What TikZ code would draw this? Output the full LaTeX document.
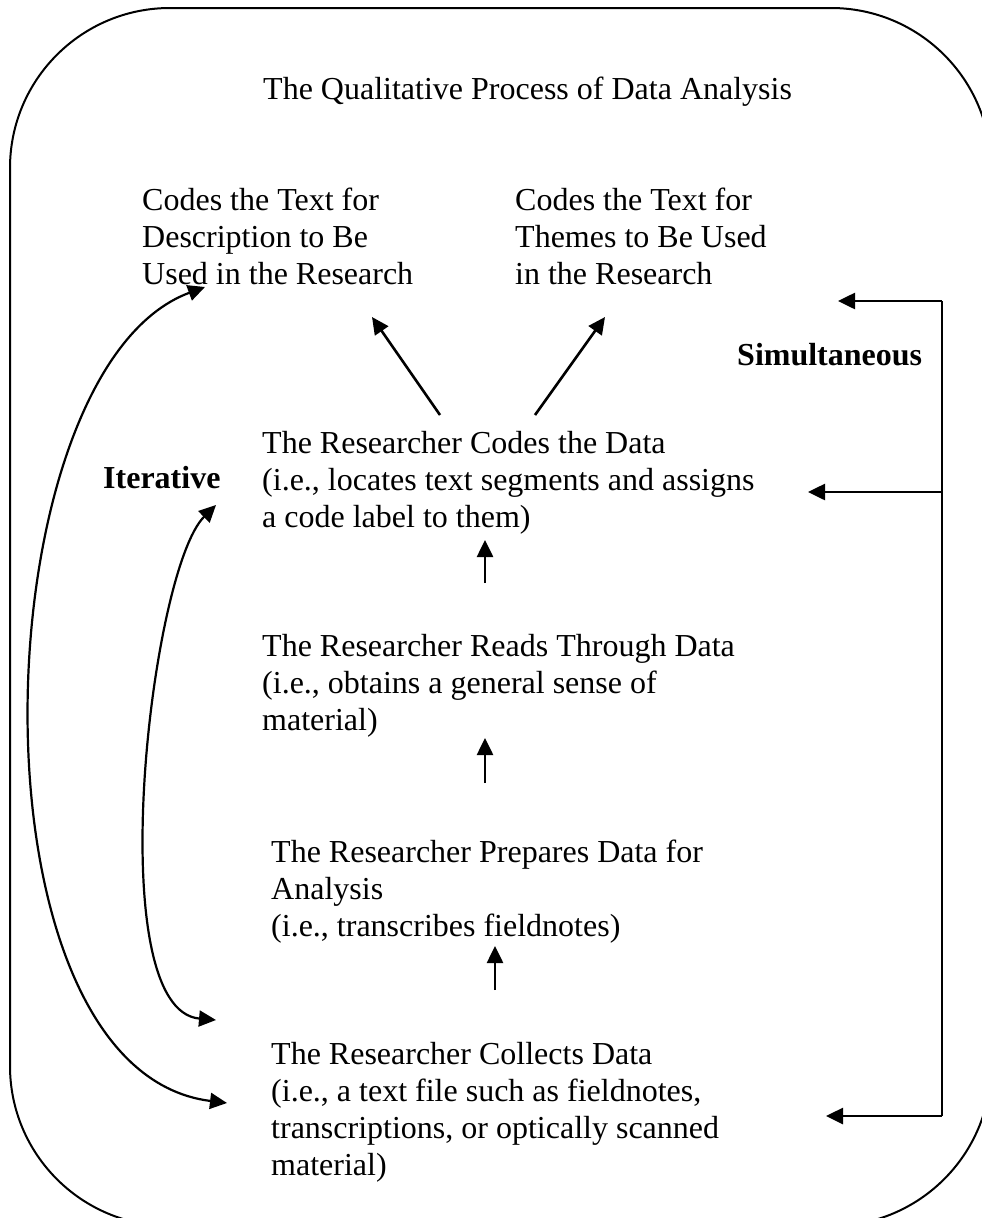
\documentclass[tikz,border=0pt]{standalone}
\usepackage{fontspec}
\setmainfont{Liberation Serif}
\usetikzlibrary{arrows.meta}

\newcommand{\lines}[1]{\begin{tabular}[t]{@{}l@{}}#1\end{tabular}}

\begin{document}
\begin{tikzpicture}[x=1pt,y=-1pt,
  txt/.style={anchor=base west, inner sep=0pt, font=\fontsize{32}{37}\selectfont},
  bold/.style={txt, font=\fontsize{32}{37}\selectfont\bfseries},
  frame/.style={line width=2pt, rounded corners=160pt},
  tip/.tip={Triangle[length=17pt,width=16pt]},
  arr/.style={line width=2.6pt, -tip},
  dbl/.style={line width=2.2pt, tip-tip},
  bar/.style={line width=2.2pt}]
\useasboundingbox (0,0) rectangle (982,1218);
\clip (0,0) rectangle (982,1218);

% outer rounded frame, partly running off the page
\draw[frame] (10,8) rectangle (991,1226);

% title
\node[txt] (title) at (263,99) {The Qualitative Process of Data Analysis};

% the two kinds of coding
\node[txt] (desc) at (142,210) {\lines{Codes the Text for\\Description to Be\\Used in the Research}};
\node[txt] (themes) at (515,210) {\lines{Codes the Text for\\Themes to Be Used\\in the Research}};

% labels of the two loops
\node[bold] (simul) at (737,365) {Simultaneous};
\node[bold] (iter) at (103,488) {Iterative};

% the steps
\node[txt] (codes) at (262,453) {\lines{The Researcher Codes the Data\\(i.e., locates text segments and assigns\\a code label to them)}};
\node[txt] (reads) at (262,656) {\lines{The Researcher Reads Through Data\\(i.e., obtains a general sense of\\material)}};
\node[txt] (prep) at (271,862) {\lines{The Researcher Prepares Data for\\Analysis\\(i.e., transcribes fieldnotes)}};
\node[txt] (coll) at (271,1064) {\lines{The Researcher Collects Data\\(i.e., a text file such as fieldnotes,\\transcriptions, or optically scanned\\material)}};

% arrow end points
\coordinate (dl0) at (440,415); \coordinate (dl1) at (372,317);
\coordinate (dr0) at (535,415); \coordinate (dr1) at (605,317);
\coordinate (u10) at (485,583); \coordinate (u11) at (485,540);
\coordinate (u20) at (485,783); \coordinate (u21) at (485,738);
\coordinate (u30) at (495,990); \coordinate (u31) at (495,946);
\coordinate (sT) at (942,301);  \coordinate (sTt) at (838,301);
\coordinate (sM) at (942,492);  \coordinate (sMt) at (808,492);
\coordinate (sB) at (942,1116); \coordinate (sBt) at (826,1116);
\coordinate (oB) at (227,1103); \coordinate (oT) at (205,287);
\coordinate (iB) at (216,1020); \coordinate (iT) at (216,505);

% step arrows
\draw[arr] (dl0) -- (dl1);
\draw[arr] (dr0) -- (dr1);
\draw[arr] (u10) -- (u11);
\draw[arr] (u20) -- (u21);
\draw[arr] (u30) -- (u31);

% simultaneous bracket
\draw[bar] (sT) -- (sB);
\draw[arr] (sT) -- (sTt);
\draw[arr] (sM) -- (sMt);
\draw[arr] (sB) -- (sBt);

% iterative loops
\draw[dbl] (oB) .. controls (-40,1070) and (-20,370) .. (oT);
\draw[dbl] (iB) .. controls (100,1010) and (150,570) .. (iT);
\end{tikzpicture}
\end{document}
